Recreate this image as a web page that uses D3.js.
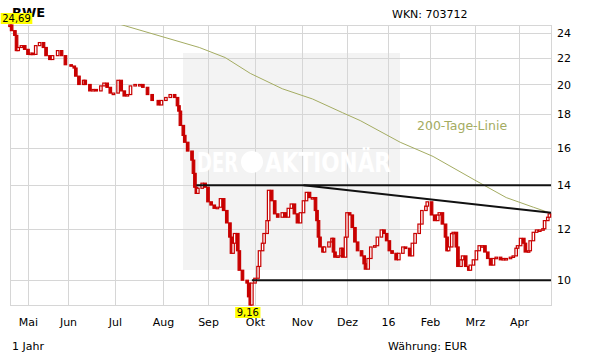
<!DOCTYPE html>
<html>
<head>
<meta charset="utf-8">
<script src="https://cdn.jsdelivr.net/npm/d3@7"></script>
<style>
body { margin: 0; background: #fff; }
text { font-family: "DejaVu Sans", Verdana, sans-serif; }
</style>
</head>
<body>
<script>
/* price series (every ~2 trading days) */
const dates = [
 "2015-04-20","2015-04-21","2015-04-23","2015-04-24","2015-04-25","2015-04-27","2015-04-29",
 "2015-05-01","2015-05-03","2015-05-05","2015-05-07","2015-05-10","2015-05-13","2015-05-15","2015-05-18","2015-05-20","2015-05-24","2015-05-27","2015-05-30",
 "2015-06-03","2015-06-05","2015-06-06","2015-06-08","2015-06-11","2015-06-12","2015-06-15","2015-06-17","2015-06-19","2015-06-22","2015-06-24","2015-06-26","2015-06-28","2015-06-30",
 "2015-07-03","2015-07-05","2015-07-07","2015-07-09","2015-07-11","2015-07-14","2015-07-17","2015-07-19","2015-07-22","2015-07-25","2015-07-29","2015-07-31",
 "2015-08-03","2015-08-06","2015-08-09","2015-08-11","2015-08-12","2015-08-13","2015-08-15","2015-08-16","2015-08-18","2015-08-21","2015-08-22","2015-08-23","2015-08-24","2015-08-25","2015-08-28","2015-08-30",
 "2015-09-01","2015-09-03","2015-09-05","2015-09-07","2015-09-09","2015-09-11","2015-09-13","2015-09-15","2015-09-16","2015-09-17","2015-09-18","2015-09-20","2015-09-21","2015-09-23","2015-09-26","2015-09-27","2015-09-28","2015-09-29",
 "2015-10-01","2015-10-03","2015-10-04","2015-10-06","2015-10-07","2015-10-09","2015-10-10","2015-10-12","2015-10-14","2015-10-16","2015-10-19","2015-10-21","2015-10-23","2015-10-25","2015-10-27","2015-10-29","2015-10-31",
 "2015-11-02","2015-11-04","2015-11-06","2015-11-08","2015-11-10","2015-11-11","2015-11-12","2015-11-13","2015-11-15","2015-11-16","2015-11-19","2015-11-21","2015-11-22","2015-11-23","2015-11-25","2015-11-27","2015-11-28","2015-11-30",
 "2015-12-01","2015-12-03","2015-12-05","2015-12-07","2015-12-09","2015-12-12","2015-12-14","2015-12-15","2015-12-17","2015-12-19","2015-12-22","2015-12-24","2015-12-27","2015-12-29","2015-12-31",
 "2016-01-02","2016-01-04","2016-01-07","2016-01-09","2016-01-12","2016-01-14","2016-01-17","2016-01-19","2016-01-21","2016-01-24","2016-01-26","2016-01-29","2016-01-30",
 "2016-02-02","2016-02-04","2016-02-06","2016-02-07","2016-02-09","2016-02-11","2016-02-12","2016-02-13","2016-02-15","2016-02-16","2016-02-18","2016-02-19","2016-02-21","2016-02-22","2016-02-24","2016-02-26","2016-02-27","2016-02-29",
 "2016-03-02","2016-03-04","2016-03-06","2016-03-08","2016-03-10","2016-03-12","2016-03-14","2016-03-16","2016-03-19","2016-03-21","2016-03-23","2016-03-26","2016-03-28","2016-03-30","2016-03-31",
 "2016-04-02","2016-04-04","2016-04-05","2016-04-07","2016-04-08","2016-04-10","2016-04-12","2016-04-14","2016-04-16","2016-04-17","2016-04-19","2016-04-20"
];
const closes = [
 24.69,24.2,23.8,22.55,22.8,22.95,22.65,
 22.25,22.35,22.25,22.95,23.2,22.8,22.15,21.85,22.15,22.55,22.15,21.45,
 21.35,21.2,20.6,20.0,20.3,20.0,19.55,19.65,19.55,19.9,20.1,19.8,19.4,19.4,
 20.3,19.55,19.2,19.3,19.9,20.0,20.0,19.8,19.3,18.9,18.6,18.9,
 19.1,19.3,19.1,18.55,18.2,17.3,16.7,16.3,15.8,15.3,14.6,13.9,13.6,13.85,14.1,13.9,
 13.2,13.05,12.9,12.95,13.35,12.8,12.25,11.65,11.0,11.4,11.8,11.1,10.36,10.0,9.9,9.43,9.16,9.9,
 10.07,10.5,11.1,11.4,11.8,12.35,13.75,13.25,12.65,12.5,12.7,12.5,12.9,13.1,12.65,12.25,12.7,
 13.25,13.65,13.4,13.4,12.8,12.35,11.65,11.25,11.05,11.25,11.45,11.6,11.05,10.85,10.9,11.2,10.85,11.65,
 12.7,12.6,12.05,11.45,11.1,10.9,10.6,10.4,10.8,11.25,11.3,11.65,11.95,11.8,11.5,
 11.1,11.0,10.75,11.0,11.25,11.2,10.9,11.4,11.8,12.2,12.8,13.0,13.2,
 12.6,12.35,12.6,12.7,12.2,11.65,11.1,11.25,11.8,11.85,11.25,10.5,10.75,10.9,10.5,10.36,10.55,10.75,
 11.1,11.3,11.3,11.05,10.8,10.55,10.8,10.85,10.75,10.8,10.8,10.85,10.9,11.2,11.3,
 11.6,11.4,11.05,11.1,11.5,11.85,11.95,11.95,12.0,12.35,12.5,12.65
];

/* 200-day line */
const maDates = ["2015-06-26","2015-07-08","2015-08-26","2015-09-12","2015-09-28","2015-10-19","2015-11-08",
 "2015-11-28","2015-12-11","2016-01-10","2016-02-03","2016-03-01","2016-03-23","2016-04-10","2016-04-20"];
const maValues = [25.1,24.6,22.8,22.0,20.8,19.7,19.0,18.1,17.6,16.3,15.5,14.25,13.4,12.95,12.7];

/* drawn lines: resistance, support, trend */
const resistance = { from: "2015-08-24", to: "2016-04-21", value: 14 };
const support = { from: "2015-09-29", to: "2016-04-21", value: 10 };
const trend = { from: "2015-11-02", to: "2016-04-21", v0: 14.0, v1: 12.7 };

/* axes */
const monthTicks = ["2015-05-01","2015-06-01","2015-07-01","2015-08-01","2015-09-01","2015-10-01",
 "2015-11-01","2015-12-01","2016-01-01","2016-02-01","2016-03-01","2016-04-01"];
const monthLabels = ["Mai","Jun","Jul","Aug","Sep","Okt","Nov","Dez","16","Feb","Mrz","Apr"];
const yTicks = [10, 12, 14, 16, 18, 20, 22, 24];

const width = 611, height = 364;
const plot = { left: 10, right: 551, top: 25, bottom: 305 };
const red = "#c80000";
const parse = d3.timeParse("%Y-%m-%d");

const svg = d3.select("body").append("svg").attr("width", width).attr("height", height);

/* x scale follows the trading-day spacing of the months */
const xScale = d3.scaleTime()
  .domain(["2015-04-20"].concat(monthTicks, ["2016-04-21"]).map(parse))
  .range([10, 28, 68, 115, 163, 208, 255, 302, 347, 388, 430, 475, 519, 551]);

const yScale = d3.scaleLog()
  .domain([d3.min(closes), d3.max(closes)])
  .range([plot.bottom, plot.top]);

/* watermark box */
svg.append("rect").attr("x", 183).attr("y", 53).attr("width", 217).attr("height", 217).attr("fill", "#f3f3f3");

/* grid */
const grid = svg.append("g").attr("stroke", "#d6d6d6").attr("stroke-width", 1).attr("shape-rendering", "crispEdges");
grid.selectAll(".hg").data(yTicks).enter().append("line")
  .attr("x1", plot.left).attr("x2", plot.right)
  .attr("y1", d => Math.round(yScale(d)) + 0.5).attr("y2", d => Math.round(yScale(d)) + 0.5);
grid.selectAll(".vg").data(monthTicks).enter().append("line")
  .attr("y1", plot.top).attr("y2", plot.bottom)
  .attr("x1", d => Math.round(xScale(parse(d))) + 0.5).attr("x2", d => Math.round(xScale(parse(d))) + 0.5);
grid.append("rect").attr("x", plot.left + 0.5).attr("y", plot.top + 0.5)
  .attr("width", plot.right - plot.left).attr("height", plot.bottom - plot.top).attr("fill", "none");

/* watermark text */
const wm = svg.append("g").attr("fill", "#fff").attr("font-weight", "bold");
wm.append("text").attr("x", 197).attr("y", 172).attr("font-size", 27)
  .attr("textLength", 41).attr("lengthAdjust", "spacingAndGlyphs").text("DER");
wm.append("circle").attr("cx", 252).attr("cy", 162).attr("r", 11);
wm.append("text").attr("x", 265).attr("y", 172).attr("font-size", 27)
  .attr("textLength", 126).attr("lengthAdjust", "spacingAndGlyphs").text("AKTIONÄR");

/* y axis labels on the right */
svg.append("g").attr("transform", "translate(" + plot.right + ",0)")
  .call(d3.axisRight(yScale).tickValues(yTicks).tickFormat(d3.format("d")).tickSize(0).tickPadding(6))
  .call(g => g.select(".domain").remove())
  .selectAll("text").attr("font-size", 11).attr("fill", "#000").style("font-family", "DejaVu Sans");

/* x axis labels */
svg.append("g").attr("transform", "translate(0," + plot.bottom + ")")
  .call(d3.axisBottom(xScale).tickValues(monthTicks.map(parse))
    .tickFormat((d, i) => monthLabels[i]).tickSize(0).tickPadding(13))
  .call(g => g.select(".domain").remove())
  .selectAll("text").attr("font-size", 11).attr("fill", "#000").style("font-family", "DejaVu Sans");

/* 200-day line */
svg.append("clipPath").attr("id", "clip").append("rect")
  .attr("x", plot.left).attr("y", plot.top).attr("width", plot.right - plot.left).attr("height", plot.bottom - plot.top);
const maLine = d3.line().x(d => xScale(d[0])).y(d => yScale(d[1]));
svg.append("path").attr("clip-path", "url(#clip)")
  .datum(maDates.map((d, i) => [parse(d), maValues[i]]))
  .attr("d", maLine).attr("fill", "none").attr("stroke", "#a4ac62").attr("stroke-width", 1);
svg.append("text").attr("x", 417).attr("y", 130).attr("font-size", 12.5).attr("fill", "#a4ac62").text("200-Tage-Linie");

/* candles: open = previous close */
const candles = closes.map((c, i) => ({ date: parse(dates[i]), open: i ? closes[i - 1] : c, close: c }));
svg.append("g").selectAll("rect").data(candles).enter().append("rect")
  .attr("x", d => xScale(d.date) - 1.25)
  .attr("y", d => yScale(Math.max(d.open, d.close)))
  .attr("width", 2.5)
  .attr("height", d => Math.max(1.5, Math.abs(yScale(d.open) - yScale(d.close))))
  .attr("fill", d => d.close >= d.open ? "#fff" : red)
  .attr("stroke", red).attr("stroke-width", 1.2);

/* support / resistance / trend lines */
const lines = [
  [parse(resistance.from), resistance.value, parse(resistance.to), resistance.value],
  [parse(support.from), support.value, parse(support.to), support.value],
  [parse(trend.from), trend.v0, parse(trend.to), trend.v1]
];
svg.append("g").selectAll("line").data(lines).enter().append("line")
  .attr("x1", d => xScale(d[0])).attr("y1", d => yScale(d[1]))
  .attr("x2", d => xScale(d[2])).attr("y2", d => yScale(d[3]))
  .attr("stroke", "#111").attr("stroke-width", 2);

/* max / min labels */
const fmt = v => d3.format(".2f")(v).replace(".", ",");
const iMax = d3.maxIndex(closes), iMin = d3.minIndex(closes);
function flag(i, cx, y) {
  const g = svg.append("g");
  const t = g.append("text").attr("font-size", 10).attr("x", cx).attr("y", y + 9)
    .attr("text-anchor", "middle").text(fmt(closes[i]));
  const w = t.node().getComputedTextLength() + 3;
  g.insert("rect", "text").attr("x", cx - w / 2).attr("y", y).attr("width", w).attr("height", 11).attr("fill", "#ffff00");
}

/* title and info */
svg.append("text").attr("x", 12).attr("y", 17).attr("font-size", 13).attr("font-weight", "bold").text("RWE");
flag(iMax, 16.5, 13);
flag(iMin, xScale(parse(dates[iMin])) - 2.5, 307);
svg.append("text").attr("x", 392).attr("y", 18).attr("font-size", 11).text("WKN: 703712");
svg.append("text").attr("x", 12).attr("y", 350).attr("font-size", 11).text("1 Jahr");
svg.append("text").attr("x", 388).attr("y", 350).attr("font-size", 11).text("Währung: EUR");
</script>
</body>
</html>
